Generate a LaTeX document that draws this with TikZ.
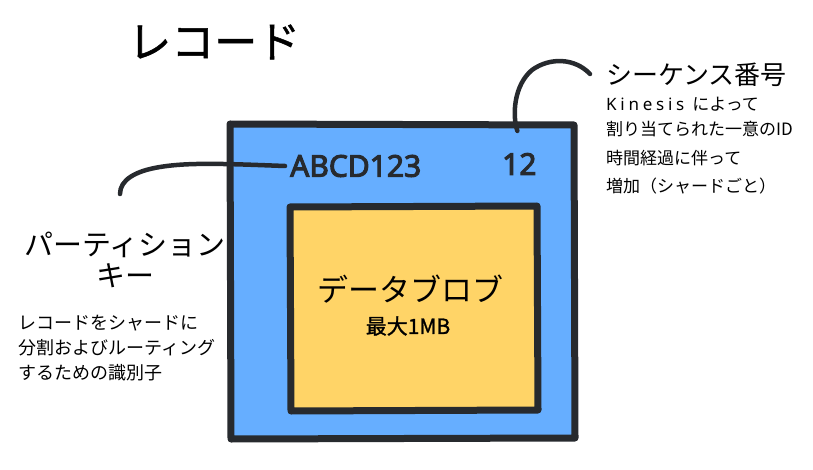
\documentclass[tikz,border=0pt]{standalone}
\usepackage{fontspec}
\setmainfont{Noto Sans}
\newfontfamily\jp{Noto Sans CJK JP}
\newfontfamily\jpb[FakeBold=1.2]{Noto Sans CJK JP}
\newfontfamily\latb[FakeBold=3.5]{Noto Sans}
\newfontfamily\latsp[LetterSpace=22]{Noto Sans}
\definecolor{ink}{HTML}{272A2E}
\definecolor{bluebox}{HTML}{66AEFF}
\definecolor{yellowbox}{HTML}{FFD467}
\tikzset{
  stroke/.style={draw=ink, line width=7pt, line cap=round, line join=round},
  lead/.style={draw=ink, line width=4.5pt, line cap=round},
  txt/.style={inner sep=0pt, text=black, font=\jp},
}
\begin{document}
\begin{tikzpicture}[x=1pt,y=-1pt]
\useasboundingbox (0,0) rectangle (813,470);
% boxes
\path[stroke, fill=bluebox] (230,124) -- (574,125) -- (575,438) -- (231,439) -- cycle;
\path[stroke, fill=yellowbox] (290,207) -- (537,206) -- (538,410) -- (291,411) -- cycle;
% title
\node[txt, font=\jpb\fontsize{43}{46}\selectfont, anchor=west] (title) at (128,42) {レコード};
% labels in box
\node[inner sep=0pt, text=ink, font=\latb\fontsize{30}{32}\selectfont, anchor=west] (pk) at (290,166) {ABCD123};
\node[inner sep=0pt, text=ink, font=\latb\fontsize{30}{32}\selectfont, anchor=west] (sn) at (502,164) {12};
% blob
\node[txt, font=\jp\fontsize{31}{34}\selectfont] (blob) at (410,289) {データブロブ};
\node[txt, font=\jpb\fontsize{21}{23}\selectfont] (max) at (408,326) {最大1MB};
% left annotation
\node[txt, font=\jp\fontsize{29}{32}\selectfont] (pkt1) at (125,245) {パーティション};
\node[txt, font=\jp\fontsize{29}{32}\selectfont] (pkt2) at (125,276) {キー};
\node[txt, font=\jp\fontsize{18}{20}\selectfont, anchor=west] (pkd1) at (18,323) {レコードをシャードに};
\node[txt, font=\jp\fontsize{18}{20}\selectfont, anchor=west] (pkd2) at (18,348) {分割およびルーティング};
\node[txt, font=\jp\fontsize{18}{20}\selectfont, anchor=west] (pkd3) at (18,373) {するための識別子};
% right annotation
\node[txt, font=\jp\fontsize{26}{29}\selectfont, anchor=west] (snt) at (606,75) {シーケンス番号};
\node[txt, font=\jp\fontsize{17}{19}\selectfont, anchor=west] (snd1) at (606,104) {{\latsp\fontsize{17}{19}\selectfont Kinesis}\hspace{8pt}によって};
\node[txt, font=\jp\fontsize{17}{19}\selectfont, anchor=west] (snd2) at (606,129) {割り当てられた一意のID};
\node[txt, font=\jp\fontsize{17}{19}\selectfont, anchor=west] (snd3) at (606,158) {時間経過に伴って};
\node[txt, font=\jp\fontsize{17}{19}\selectfont, anchor=west] (snd4) at (606,186) {増加（シャードごと）};
% leaders
\coordinate (lend) at (120,194);
\coordinate (rend) at (590,74);
\draw[lead] (pk.west) ++(-5,0) .. controls (230,164) and (190,162) .. (160,167) .. controls (135,171) and (120,180) .. (lend);
\draw[lead] (sn.north) ++(-2,-22) .. controls (512,115) and (514,85) .. (532,70) .. controls (550,57) and (575,58) .. (rend);
\end{tikzpicture}
\end{document}
